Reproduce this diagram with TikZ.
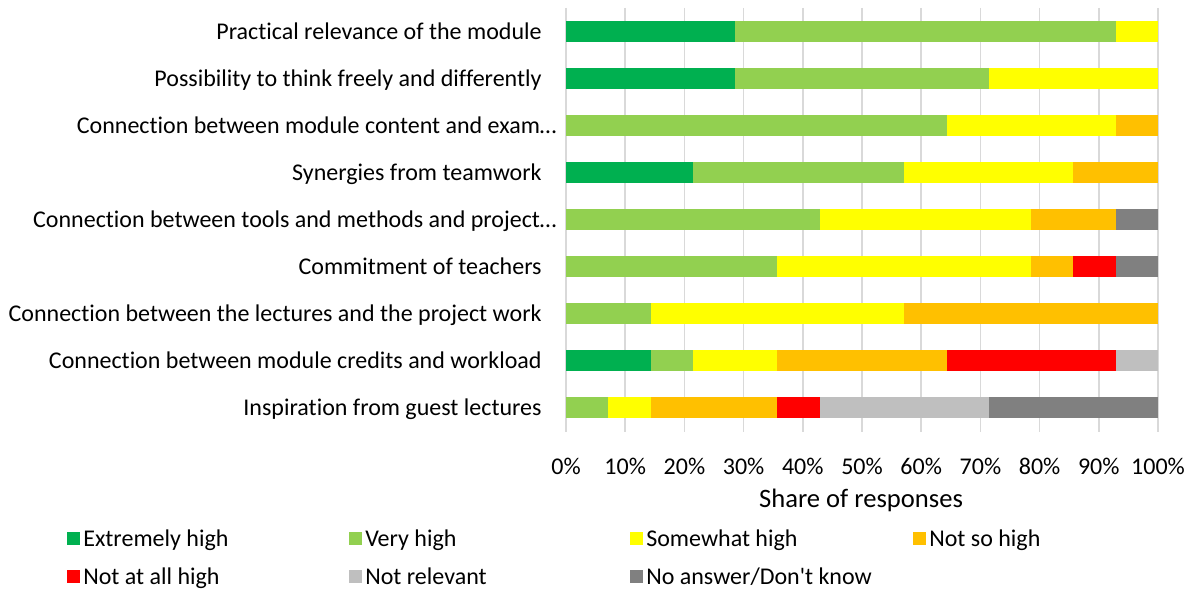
\documentclass[tikz,border=0pt]{standalone}
\usepackage{fontspec}
\setmainfont{Carlito}[Ligatures={TeXOff,NoCommon}]
\usetikzlibrary{positioning}

\definecolor{exthigh}{HTML}{00B050}
\definecolor{veryhigh}{HTML}{92D050}
\definecolor{somehigh}{HTML}{FFFF00}
\definecolor{notsohigh}{HTML}{FFC000}
\definecolor{notallhigh}{HTML}{FF0000}
\definecolor{notrel}{HTML}{BFBFBF}
\definecolor{noans}{HTML}{808080}
\definecolor{gridgray}{HTML}{D9D9D9}

\begin{document}
\begin{tikzpicture}[x=0.5pt,y=-0.5pt,
    txt/.style={inner sep=0pt,font=\fontsize{12}{14}\selectfont,text height=8pt,text depth=0pt},
    lbl/.style={txt,anchor=east},
    tick/.style={txt},
    key/.style={inner sep=0pt,minimum size=6.5pt},
    keytext/.style={txt,right=1.5pt of #1},
    gridline/.style={draw=gridgray,line width=0.75pt}]
    \useasboundingbox (0,0) rectangle (1192,588);

    % grid
    \foreach \i in {0,...,10}
        \draw[gridline] ({566+59.2*\i},8) -- ({566+59.2*\i},432);

    % bars, in 14ths of the responses
    \foreach \segs [count=\i from 0] in {
        {0/4/exthigh,4/13/veryhigh,13/14/somehigh},
        {0/4/exthigh,4/10/veryhigh,10/14/somehigh},
        {0/9/veryhigh,9/13/somehigh,13/14/notsohigh},
        {0/3/exthigh,3/8/veryhigh,8/12/somehigh,12/14/notsohigh},
        {0/6/veryhigh,6/11/somehigh,11/13/notsohigh,13/14/noans},
        {0/5/veryhigh,5/11/somehigh,11/12/notsohigh,12/13/notallhigh,13/14/noans},
        {0/2/veryhigh,2/8/somehigh,8/14/notsohigh},
        {0/2/exthigh,2/3/veryhigh,3/5/somehigh,5/9/notsohigh,9/13/notallhigh,13/14/notrel},
        {0/1/veryhigh,1/2/somehigh,2/5/notsohigh,5/6/notallhigh,6/10/notrel,10/14/noans}}
        \foreach \a/\b/\c in \segs
            \fill[\c] ({566+42.2857*\a},{31.2+47.08*\i-10.5}) rectangle ({566+42.2857*\b},{31.2+47.08*\i+10.5});

    % row labels
    \node[lbl] (lab1) at (542,31.2) {Practical relevance of the module};
    \node[lbl] (lab2) at (542,78.3) {Possibility to think freely and differently};
    \node[lbl] (lab3) at (557,125.4) {Connection between module content and exam…};
    \node[lbl] (lab4) at (542,172.4) {Synergies from teamwork};
    \node[lbl] (lab5) at (557,219.5) {Connection between tools and methods and project…};
    \node[lbl] (lab6) at (542,266.6) {Commitment of teachers};
    \node[lbl] (lab7) at (542,313.7) {Connection between the lectures and the project work};
    \node[lbl] (lab8) at (542,360.8) {Connection between module credits and workload};
    \node[lbl] (lab9) at (542,407.8) {Inspiration from guest lectures};

    % axis
    \foreach \i in {0,...,10}
        \node[tick] (t\i) at ({566+59.2*\i},466) {\the\numexpr\i*10\relax\%};
    \node[tick,font=\fontsize{13.3}{15}\selectfont,text height=8.8pt] (xtitle) at (861,499) {Share of responses};

    % legend
    \node[key,fill=exthigh] (k1) at (73,538) {};
    \node[keytext=k1] (kt1) {Extremely high};
    \node[key,fill=veryhigh] (k2) at (355,538) {};
    \node[keytext=k2] (kt2) {Very high};
    \node[key,fill=somehigh] (k3) at (636,538) {};
    \node[keytext=k3] (kt3) {Somewhat high};
    \node[key,fill=notsohigh] (k4) at (919,538) {};
    \node[keytext=k4] (kt4) {Not so high};
    \node[key,fill=notallhigh] (k5) at (73,576) {};
    \node[keytext=k5] (kt5) {Not at all high};
    \node[key,fill=notrel] (k6) at (355,576) {};
    \node[keytext=k6] (kt6) {Not relevant};
    \node[key,fill=noans] (k7) at (636,576) {};
    \node[keytext=k7] (kt7) {No answer/Don't know};
\end{tikzpicture}
\end{document}
